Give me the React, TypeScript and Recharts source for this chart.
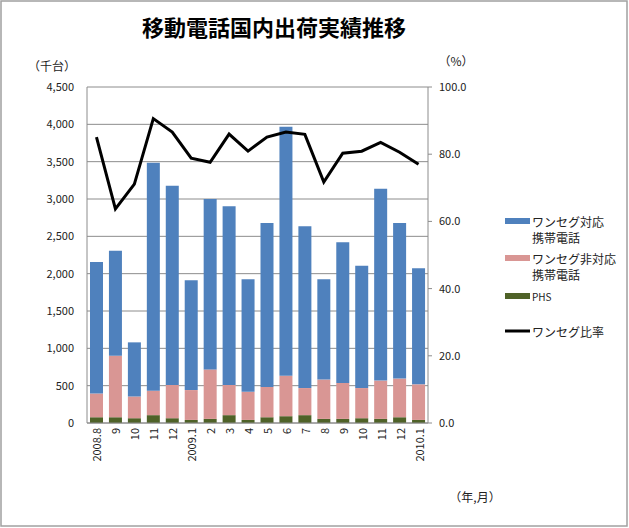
import { ComposedChart, Bar, Line, XAxis, YAxis, CartesianGrid } from "recharts";

const MONTHS = [
  "2008.8", "9", "10", "11", "12", "2009.1", "2", "3", "4",
  "5", "6", "7", "8", "9", "10", "11", "12", "2010.1",
];

// 千台
const ONESEG = [1761, 1408, 725, 3054, 2669, 1470, 2282, 2393, 1506, 2197, 3337, 2166, 1342, 1884, 1639, 2570, 2084, 1553];
const NON_ONESEG = [318, 823, 291, 327, 445, 400, 663, 404, 377, 405, 541, 363, 527, 481, 404, 513, 518, 477];
const PHS = [77, 77, 64, 105, 64, 41, 55, 105, 41, 77, 91, 105, 55, 55, 64, 55, 77, 41];
// %
const RATIO = [85.1, 63.7, 71.1, 90.6, 86.6, 78.8, 77.6, 86.0, 80.9, 85.1, 86.6, 85.9, 71.7, 80.3, 80.9, 83.5, 80.6, 77.0];

const LEFT_TICKS = [0, 500, 1000, 1500, 2000, 2500, 3000, 3500, 4000, 4500];
const RIGHT_TICKS = [0, 20, 40, 60, 80, 100];

const FONT = '"Noto Sans CJK JP", "Noto Sans", sans-serif';
const BLUE = "#4F81BD";
const PINK = "#D99694";
const GREEN = "#4F6228";
const GRID = "#8C8C8C";
const TEXT = "#222";

const data = MONTHS.map((m, i) => ({
  month: m,
  oneseg: ONESEG[i],
  nonOneseg: NON_ONESEG[i],
  phs: PHS[i],
  ratio: RATIO[i],
}));

const XTick = ({ x, y, payload }: any) => (
  <text
    x={x}
    y={y}
    transform={`rotate(-90 ${x} ${y})`}
    textAnchor="end"
    dominantBaseline="central"
    fontSize={11}
    fontFamily={FONT}
    fill={TEXT}
  >
    {payload.value}
  </text>
);

const legendItems = [
  { kind: "bar", color: BLUE, lines: ["ワンセグ対応", "携帯電話"], y: 221 },
  { kind: "bar", color: PINK, lines: ["ワンセグ非対応", "携帯電話"], y: 258 },
  { kind: "bar", color: GREEN, lines: ["PHS"], y: 296 },
  { kind: "line", color: "#000", lines: ["ワンセグ比率"], y: 331 },
];

export default function App() {
  return (
    <div style={{ position: "absolute", left: 0, top: 0, width: 629, height: 528, background: "#fff" }}>
      <ComposedChart
        width={629}
        height={528}
        data={data}
        margin={{ top: 87, right: 161, left: 27, bottom: 65 }}
        barSize={13}
      >
        <CartesianGrid yAxisId="left" vertical={false} stroke={GRID} />
        <XAxis
          dataKey="month"
          interval={0}
          height={40}
          tick={<XTick />}
          tickLine={false}
          tickSize={5}
          tickMargin={0}
          axisLine={{ stroke: GRID }}
        />
        <YAxis
          yAxisId="left"
          width={60}
          domain={[0, 4500]}
          ticks={LEFT_TICKS}
          tickFormatter={(v: number) => v.toLocaleString("en-US")}
          tick={{ fontSize: 11, fill: TEXT, fontFamily: FONT }}
          tickLine={false}
          tickSize={6}
          tickMargin={7}
          axisLine={{ stroke: GRID }}
        />
        <YAxis
          yAxisId="right"
          orientation="right"
          width={40}
          domain={[0, 100]}
          ticks={RIGHT_TICKS}
          tickFormatter={(v: number) => v.toFixed(1)}
          tick={{ fontSize: 11, fill: TEXT, fontFamily: FONT, textAnchor: "start" }}
          tickLine={{ stroke: GRID }}
          tickSize={4}
          tickMargin={7}
          axisLine={{ stroke: GRID }}
        />
        <Bar yAxisId="left" dataKey="phs" stackId="a" fill={GREEN} isAnimationActive={false} />
        <Bar yAxisId="left" dataKey="nonOneseg" stackId="a" fill={PINK} isAnimationActive={false} />
        <Bar yAxisId="left" dataKey="oneseg" stackId="a" fill={BLUE} isAnimationActive={false} />
        <Line
          yAxisId="right"
          type="linear"
          dataKey="ratio"
          stroke="#000"
          strokeWidth={3}
          dot={false}
          isAnimationActive={false}
        />
      </ComposedChart>

      <svg
        width={629}
        height={528}
        style={{ position: "absolute", left: 0, top: 0, pointerEvents: "none" }}
        fontFamily={FONT}
      >
        <rect x={1} y={1} width={626} height={525} fill="none" stroke="#A0A0A0" strokeWidth={1.5} />
        <text x={274} y={36} textAnchor="middle" fontSize={22} fontWeight="bold" fill="#000">
          移動電話国内出荷実績推移
        </text>
        <text x={52} y={71} textAnchor="middle" fontSize={12} fill={TEXT}>（千台）</text>
        <text x={456} y={66} textAnchor="middle" fontSize={12} fill={TEXT}>（%）</text>
        <text x={475} y={502} textAnchor="middle" fontSize={12} fill={TEXT}>（年,月）</text>
        {legendItems.map((it) => (
          <g key={it.lines[0]}>
            {it.kind === "bar" ? (
              <rect x={505} y={it.y - 3} width={25} height={6} fill={it.color} />
            ) : (
              <line x1={505} x2={530} y1={it.y} y2={it.y} stroke={it.color} strokeWidth={3} />
            )}
            {it.lines.map((ln, j) => (
              <text
                key={j}
                x={532}
                y={it.y + j * 16.5}
                dominantBaseline="central"
                fontSize={ln === "PHS" ? 10 : 12}
                fill={TEXT}
              >
                {ln}
              </text>
            ))}
          </g>
        ))}
      </svg>
    </div>
  );
}
